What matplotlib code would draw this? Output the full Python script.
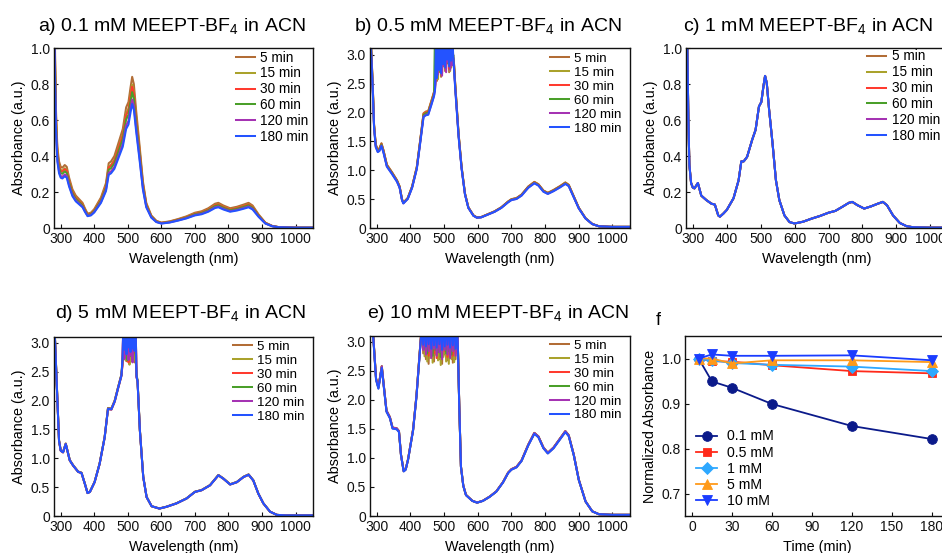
import matplotlib
matplotlib.use("Agg")
import matplotlib.pyplot as plt

plt.rcParams['font.family'] = ['Liberation Sans', 'DejaVu Sans']
plt.rcParams['mathtext.fontset'] = 'custom'
plt.rcParams['mathtext.rm'] = 'Liberation Sans'

W, H = 942, 553

# ---------------- data ----------------
times = [5, 15, 30, 60, 120, 180]
time_labels = ['5 min', '15 min', '30 min', '60 min', '120 min', '180 min']
time_colors = ['#b26d36', '#aaa22c', '#ff3b2f', '#4a9f2a', '#a533b3', '#2453ff']

# panel f : normalized absorbance vs time
norm_01 = [1.000, 0.949, 0.935, 0.899, 0.850, 0.821]
norm_05 = [1.000, 0.994, 0.993, 0.985, 0.972, 0.967]
norm_1 = [1.000, 0.996, 0.990, 0.986, 0.982, 0.972]
norm_5 = [1.000, 1.000, 0.989, 0.996, 0.996, 0.992]
norm_10 = [1.000, 1.009, 1.006, 1.006, 1.007, 0.996]
conc_labels = ['0.1 mM', '0.5 mM', '1 mM', '5 mM', '10 mM']
conc_colors = ['#0b1a8a', '#ff2a1a', '#2ea8ff', '#ff9a1a', '#1a3cff']
conc_markers = ['o', 's', 'D', '^', 'v']
f_xticks = [0, 30, 60, 90, 120, 150, 180]
f_yticks = [0.7, 0.8, 0.9, 1.0]
f_yticklabels = ['0.7', '0.8', '0.9', '1.0']

# spectral tick labels
wl_ticks = [300, 400, 500, 600, 700, 800, 900, 1000]
wl_ticklabels = ['300', '400', '500', '600', '700', '800', '900', '1000']
low_yticks = [0, 0.2, 0.4, 0.6, 0.8, 1.0]
low_yticklabels = ['0', '0.2', '0.4', '0.6', '0.8', '1.0']
high_yticks = [0, 0.5, 1.0, 1.5, 2.0, 2.5, 3.0]
high_yticklabels = ['0', '0.5', '1.0', '1.5', '2.0', '2.5', '3.0']

# panel a : 0.1 mM (5 min spectrum)
wl_a = [280, 283, 286, 290, 295, 300, 305, 312, 318, 325, 335, 345, 355, 365, 372,
        380, 390, 400, 420, 435, 443, 450, 460, 475, 485, 495, 502, 508, 513, 518,
        525, 535, 545, 555, 570, 585, 600, 625, 650, 675, 700, 720, 740, 760, 770,
        785, 805, 825, 845, 860, 872, 890, 910, 930, 950, 1000, 1050]
abs_a = [1.50, 1.00, 0.65, 0.45, 0.37, 0.34, 0.335, 0.35, 0.34, 0.28, 0.215, 0.18,
         0.16, 0.14, 0.11, 0.08, 0.085, 0.105, 0.17, 0.25, 0.36, 0.37, 0.40, 0.49,
         0.55, 0.67, 0.70, 0.78, 0.84, 0.80, 0.65, 0.46, 0.26, 0.14, 0.07, 0.04,
         0.03, 0.037, 0.05, 0.065, 0.085, 0.093, 0.11, 0.135, 0.14, 0.125, 0.11,
         0.118, 0.13, 0.14, 0.125, 0.075, 0.03, 0.012, 0.005, 0.002, 0.002]

# panel c : 1 mM
wl_c = [280, 284, 287, 290, 295, 300, 305, 315, 325, 340, 355, 365, 375, 380, 390,
        400, 420, 435, 443, 450, 460, 475, 485, 495, 502, 508, 513, 518, 525, 535,
        545, 555, 570, 585, 600, 625, 650, 675, 700, 720, 740, 760, 770, 785, 805,
        825, 845, 860, 872, 890, 910, 930, 950, 1000, 1050]
abs_c = [1.5, 1.0, 0.6, 0.35, 0.25, 0.225, 0.22, 0.25, 0.18, 0.155, 0.135, 0.13,
         0.07, 0.063, 0.08, 0.10, 0.165, 0.265, 0.37, 0.37, 0.395, 0.49, 0.545,
         0.675, 0.70, 0.785, 0.845, 0.805, 0.655, 0.47, 0.265, 0.155, 0.07, 0.033,
         0.025, 0.035, 0.052, 0.067, 0.085, 0.095, 0.117, 0.14, 0.145, 0.127, 0.108,
         0.12, 0.135, 0.145, 0.127, 0.07, 0.028, 0.01, 0.004, 0.002, 0.002]
scale_c = [1.0, 1.0, 1.0, 1.0, 1.0, 1.0]

# panel b : 0.5 mM (detector saturates between ~473 and 527 nm)
wl_b1 = [280, 283, 288, 292, 297, 303, 308, 314, 320, 330, 345, 360, 368, 375, 379,
         392, 405, 419, 429, 439, 446, 453, 463, 470]
abs_b1 = [4.0, 3.2, 2.5, 1.8, 1.45, 1.36, 1.38, 1.47, 1.35, 1.10, 0.97, 0.83, 0.72,
          0.50, 0.44, 0.52, 0.72, 1.06, 1.52, 1.99, 2.02, 2.03, 2.22, 2.36]
wl_b_sat = [473, 476, 479, 482, 485, 488, 491, 494, 497, 500, 503, 506, 509, 512,
            515, 518, 521, 524, 527]
b_sat_5 = [2.40, 3.40, 2.55, 3.40, 2.70, 3.40, 2.62, 3.40, 2.80, 3.40, 2.72, 3.40, 2.85, 3.40, 2.70, 3.40, 2.78, 3.40, 2.95]
b_sat_15 = [2.45, 2.60, 3.40, 2.58, 3.40, 2.75, 3.40, 2.68, 3.40, 2.88, 3.40, 2.76, 3.40, 2.92, 3.40, 2.72, 3.40, 2.85, 3.00]
b_sat_30 = [2.42, 3.40, 2.62, 3.40, 2.78, 3.40, 2.70, 3.40, 2.86, 3.40, 2.80, 3.40, 2.94, 3.40, 2.76, 3.40, 2.88, 3.40, 2.95]
b_sat_60 = [3.40, 2.65, 3.40, 2.80, 3.40, 2.72, 3.40, 2.90, 3.40, 2.84, 3.40, 2.98, 3.40, 2.86, 3.40, 2.95, 3.40, 2.90, 3.00]
b_sat_120 = [2.40, 2.58, 3.40, 2.66, 3.40, 2.80, 3.40, 2.64, 3.40, 2.82, 3.40, 2.70, 3.40, 2.88, 3.40, 2.74, 3.40, 2.82, 2.95]
b_sat_180 = [2.38, 3.40, 2.60, 3.40, 2.74, 3.40, 2.68, 3.40, 2.84, 3.40, 2.78, 3.40, 2.92, 3.40, 2.80, 3.40, 2.90, 3.40, 3.00]
wl_b2 = [529, 533, 543, 552, 562, 572, 587, 597, 610, 630, 650, 670, 690, 700, 715,
         730, 750, 768, 780, 795, 808, 825, 845, 860, 870, 885, 900, 920, 940, 960,
         1000, 1050]
abs_b2 = [2.9, 2.5, 1.64, 1.06, 0.60, 0.36, 0.22, 0.185, 0.19, 0.24, 0.29, 0.36,
          0.46, 0.50, 0.52, 0.58, 0.72, 0.80, 0.76, 0.65, 0.61, 0.66, 0.73, 0.79,
          0.75, 0.55, 0.35, 0.17, 0.07, 0.03, 0.02, 0.02]

# panel d : 5 mM (saturated ~484-526 nm)
wl_d1 = [280, 283, 289, 295, 300, 307, 315, 327, 337, 352, 362, 372, 380, 387, 401,
         416, 431, 441, 451, 461, 471, 481]
abs_d1 = [4.0, 3.07, 2.18, 1.31, 1.14, 1.11, 1.255, 0.97, 0.88, 0.77, 0.75, 0.56,
          0.40, 0.42, 0.59, 0.91, 1.37, 1.87, 1.86, 2.00, 2.23, 2.45]
wl_d_sat = [484, 487, 490, 493, 496, 499, 502, 505, 508, 511, 514, 517, 520, 523, 526]
d_sat_5 = [2.60, 3.40, 2.75, 3.40, 2.68, 3.40, 2.85, 3.40, 2.72, 3.40, 2.80, 3.40, 2.66, 3.40, 2.40]
d_sat_15 = [2.65, 2.80, 3.40, 2.70, 3.40, 2.90, 3.40, 2.62, 3.40, 2.84, 3.40, 2.70, 3.40, 2.76, 2.45]
d_sat_30 = [2.62, 3.40, 2.82, 3.40, 2.74, 3.40, 2.66, 3.40, 2.86, 3.40, 2.74, 3.40, 2.82, 3.40, 2.42]
d_sat_60 = [2.70, 2.90, 3.40, 2.78, 3.40, 2.70, 3.40, 2.88, 3.40, 2.76, 3.40, 2.90, 3.40, 2.80, 2.45]
d_sat_120 = [2.64, 3.40, 2.72, 3.40, 2.84, 3.40, 2.70, 3.40, 2.78, 3.40, 2.66, 3.40, 2.86, 3.40, 2.40]
d_sat_180 = [2.70, 3.40, 2.88, 3.40, 2.80, 3.40, 2.92, 3.40, 2.84, 3.40, 2.90, 3.40, 2.86, 3.40, 2.42]
wl_d2 = [529, 536, 546, 556, 571, 594, 615, 645, 675, 700, 720, 745, 770, 785, 805,
         825, 845, 860, 874, 889, 904, 924, 944, 970, 1000, 1050]
abs_d2 = [2.35, 1.49, 0.68, 0.33, 0.17, 0.13, 0.16, 0.22, 0.305, 0.42, 0.45, 0.535,
          0.71, 0.65, 0.55, 0.59, 0.68, 0.72, 0.62, 0.39, 0.22, 0.075, 0.02, 0.01,
          0.01, 0.01]

# panel e : 10 mM (saturated ~434-540 nm)
wl_e1 = [280, 290, 298, 305, 315, 321, 329, 339, 347, 359, 366, 372, 380, 386, 393,
         408, 418, 427, 433]
abs_e1 = [4.0, 3.05, 2.35, 2.20, 2.56, 2.23, 1.80, 1.69, 1.51, 1.50, 1.45, 1.05,
          0.77, 0.80, 0.97, 1.48, 2.06, 2.75, 3.20]
wl_e_sat = [434, 438, 442, 446, 450, 454, 458, 462, 466, 470, 474, 478, 482, 486,
            490, 494, 498, 502, 506, 510, 514, 518, 522, 526, 530, 534, 538]
e_sat_5 = [3.40, 2.80, 3.40, 2.70, 3.40, 2.62, 3.40, 2.75, 3.40, 2.66, 3.40, 2.80, 3.40, 2.70, 3.40, 2.62, 3.40, 2.78, 3.40, 2.68, 3.40, 2.74, 3.40, 2.64, 3.40, 2.70, 3.40]
e_sat_15 = [3.40, 3.40, 2.75, 3.40, 2.66, 3.40, 2.72, 3.40, 2.64, 3.40, 2.78, 3.40, 2.68, 3.40, 2.60, 3.40, 2.74, 3.40, 2.66, 3.40, 2.62, 3.40, 2.70, 3.40, 2.65, 3.40, 2.85]
e_sat_30 = [3.40, 2.90, 3.40, 2.82, 3.40, 2.76, 3.40, 2.88, 3.40, 2.80, 3.40, 2.72, 3.40, 2.86, 3.40, 2.78, 3.40, 2.84, 3.40, 2.74, 3.40, 2.82, 3.40, 2.76, 3.40, 2.80, 3.40]
e_sat_60 = [3.40, 3.40, 2.88, 3.40, 2.80, 3.40, 2.90, 3.40, 2.76, 3.40, 2.86, 3.40, 2.82, 3.40, 2.74, 3.40, 2.88, 3.40, 2.80, 3.40, 2.84, 3.40, 2.78, 3.40, 2.86, 3.40, 2.90]
e_sat_120 = [3.40, 2.86, 3.40, 2.78, 3.40, 2.84, 3.40, 2.72, 3.40, 2.88, 3.40, 2.76, 3.40, 2.82, 3.40, 2.70, 3.40, 2.86, 3.40, 2.78, 3.40, 2.72, 3.40, 2.84, 3.40, 2.76, 3.40]
e_sat_180 = [3.40, 2.95, 3.40, 2.92, 3.40, 2.96, 3.40, 2.88, 3.40, 2.94, 3.40, 2.90, 3.40, 2.96, 3.40, 2.86, 3.40, 2.92, 3.40, 2.95, 3.40, 2.90, 3.40, 2.94, 3.40, 2.88, 3.40]
wl_e2 = [541, 545, 550, 557, 565, 584, 598, 615, 635, 655, 675, 690, 700, 715, 730,
         750, 768, 780, 795, 808, 825, 845, 860, 870, 885, 900, 920, 940, 960, 1000,
         1050]
abs_e2 = [2.9, 1.9, 0.85, 0.52, 0.36, 0.26, 0.23, 0.26, 0.33, 0.42, 0.58, 0.74,
          0.80, 0.84, 0.95, 1.22, 1.42, 1.36, 1.17, 1.08, 1.17, 1.33, 1.45, 1.38,
          1.05, 0.62, 0.25, 0.08, 0.03, 0.02, 0.02]

# ---------------- helpers ----------------
def px_rect(l, t, r, b):
    return [l / W, 1 - b / H, (r - l) / W, (b - t) / H]


def series_plain(wl, ab, k):
    return list(wl), [v * k for v in ab]


def series_sat(wl1, ab1, wls, sat, wl2, ab2, k):
    x = list(wl1) + list(wls) + list(wl2)
    y = [v * k for v in ab1] + list(sat) + [v * k for v in ab2]
    return x, y


def style_axes(ax, width_px, height_px):
    for s in ax.spines.values():
        s.set_linewidth(1.0)
        s.set_color('#111111')
    ax.tick_params(direction='in', length=3, width=0.8, labelsize=10, pad=3,
                   colors='#111111')
    ax.yaxis.set_label_coords(-28 / width_px, 0.5)
    ax.xaxis.set_label_coords(0.5, -24 / height_px)


def spectral_panel(rect, series, ylim, yticks, yticklabels, leg_xy, leg_fs, leg_ls):
    ax = fig.add_axes(px_rect(*rect))
    wpx = rect[2] - rect[0]
    hpx = rect[3] - rect[1]
    for (x, y), c, lab in zip(series, time_colors, time_labels):
        ax.plot(x, y, color=c, lw=1.45, label=lab, solid_joinstyle='round')
    ax.set_xlim(280, 1052)
    ax.set_ylim(*ylim)
    ax.set_xticks(wl_ticks)
    ax.set_xticklabels(wl_ticklabels)
    ax.set_yticks(yticks)
    ax.set_yticklabels(yticklabels)
    ax.set_xlabel('Wavelength (nm)', fontsize=10.4)
    ax.set_ylabel('Absorbance (a.u.)', fontsize=10.4)
    style_axes(ax, wpx, hpx)
    ax.legend(loc='upper left', bbox_to_anchor=(leg_xy[0] / W, 1 - leg_xy[1] / H),
              bbox_transform=fig.transFigure, frameon=False, fontsize=leg_fs,
              handlelength=1.4, handletextpad=0.4, labelspacing=leg_ls,
              borderpad=0, borderaxespad=0)
    return ax


fig = plt.figure(figsize=(W / 100, H / 100), dpi=100)

# panel a
ser_a = [series_plain(wl_a, abs_a, k) for k in norm_01]
spectral_panel((54, 48, 313, 228), ser_a, (0, 1.0), low_yticks, low_yticklabels,
               (236, 50.5), 9.8, 0.14)

# panel b
b_sats = [b_sat_5, b_sat_15, b_sat_30, b_sat_60, b_sat_120, b_sat_180]
ser_b = [series_sat(wl_b1, abs_b1, wl_b_sat, s, wl_b2, abs_b2, k)
         for s, k in zip(b_sats, norm_05)]
spectral_panel((370, 48, 630, 228), ser_b, (0, 3.12), high_yticks, high_yticklabels,
               (550, 52.5), 9.6, 0.12)

# panel c
ser_c = [series_plain(wl_c, abs_c, k) for k in scale_c]
spectral_panel((686, 48, 948, 228), ser_c, (0, 1.0), low_yticks, low_yticklabels,
               (867, 49.5), 9.8, 0.14)

# panel d
d_sats = [d_sat_5, d_sat_15, d_sat_30, d_sat_60, d_sat_120, d_sat_180]
ser_d = [series_sat(wl_d1, abs_d1, wl_d_sat, s, wl_d2, abs_d2, k)
         for s, k in zip(d_sats, norm_5)]
spectral_panel((54, 337, 313, 516), ser_d, (0, 3.1), high_yticks, high_yticklabels,
               (233, 340.5), 9.6, 0.12)

# panel e
e_sats = [e_sat_5, e_sat_15, e_sat_30, e_sat_60, e_sat_120, e_sat_180]
ser_e = [series_sat(wl_e1, abs_e1, wl_e_sat, s, wl_e2, abs_e2, k)
         for s, k in zip(e_sats, norm_10)]
spectral_panel((370, 336, 630, 516), ser_e, (0, 3.1), high_yticks, high_yticklabels,
               (550, 339.5), 9.6, 0.12)

# panel f
axf = fig.add_axes(px_rect(685, 336, 950, 516))
for vals, lab, c, m in zip([norm_01, norm_05, norm_1, norm_5, norm_10],
                           conc_labels, conc_colors, conc_markers):
    ms = 6.0 if m in ('s', 'D') else 7.0
    axf.plot(times, vals, color=c, marker=m, ms=ms, lw=1.3, label=lab,
             markeredgewidth=0.6, markeredgecolor=c)
axf.set_xlim(-5.2, 193.6)
axf.set_ylim(0.65, 1.05)
axf.set_xticks(f_xticks)
axf.set_xticklabels([str(v) for v in f_xticks])
axf.set_yticks(f_yticks)
axf.set_yticklabels(f_yticklabels)
axf.set_xlabel('Time (min)', fontsize=10.4)
axf.set_ylabel('Normalized Absorbance', fontsize=10.4)
style_axes(axf, 265, 180)
axf.legend(loc='upper left', bbox_to_anchor=(696 / W, 1 - 429.5 / H),
           bbox_transform=fig.transFigure, frameon=False, fontsize=10.2,
           handlelength=1.5, handletextpad=0.7, labelspacing=0.15,
           borderpad=0, borderaxespad=0, numpoints=1)

# titles
title_fs = 14
fig.text(172 / W, 1 - 31 / H, 'a) 0.1 mM MEEPT-BF$_\\mathregular{4}$ in ACN',
         ha='center', va='baseline', fontsize=title_fs)
fig.text(488 / W, 1 - 31 / H, 'b) 0.5 mM MEEPT-BF$_\\mathregular{4}$ in ACN',
         ha='center', va='baseline', fontsize=title_fs)
fig.text(808 / W, 1 - 31 / H, 'c) 1 mM MEEPT-BF$_\\mathregular{4}$ in ACN',
         ha='center', va='baseline', fontsize=title_fs)
fig.text(181 / W, 1 - 318 / H, 'd) 5 mM MEEPT-BF$_\\mathregular{4}$ in ACN',
         ha='center', va='baseline', fontsize=title_fs)
fig.text(498 / W, 1 - 318 / H, 'e) 10 mM MEEPT-BF$_\\mathregular{4}$ in ACN',
         ha='center', va='baseline', fontsize=title_fs)
fig.text(656 / W, 1 - 325 / H, 'f', ha='left', va='baseline', fontsize=13)

fig.savefig('out.png', dpi=100)
